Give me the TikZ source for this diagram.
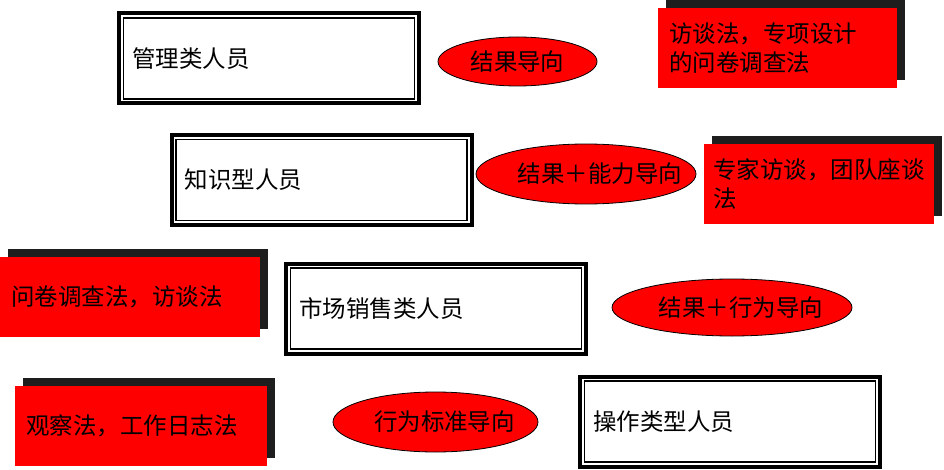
\documentclass[tikz,border=0pt]{standalone}
\usepackage{fontspec}
\setmainfont{Noto Sans CJK SC}
\usetikzlibrary{shapes.geometric,shadows}
\definecolor{shadowcol}{RGB}{30,30,30}
\begin{document}
\begin{tikzpicture}[x=0.75pt,y=-0.75pt,
  every node/.style={font=\fontsize{17.6pt}{22pt}\selectfont},
  personbox/.style={draw=black, line width=3pt, fill=white, rectangle,
    minimum width=225pt, minimum height=67.5pt, inner ysep=0pt, inner xsep=10pt,
    text width=205pt, align=left,
    path picture={\draw[line width=0.9pt]
      ([shift={(3.4pt,-3.4pt)}]path picture bounding box.north west) rectangle
      ([shift={(-3.4pt,3.4pt)}]path picture bounding box.south east);}},
  methodbox/.style={fill=red, draw=none, rectangle, minimum height=60pt,
    inner xsep=8.5pt, inner ysep=0pt, align=left,
    drop shadow={shadow xshift=6pt, shadow yshift=6pt, fill=shadowcol, opacity=1}},
  orient/.style={ellipse, fill=red, draw=black, line width=0.6pt, inner sep=0pt}
]
\useasboundingbox (0,0) rectangle (944,470);

% person boxes
\node[personbox] (b1) at (269,58.5) {管理类人员};
\node[personbox] (b2) at (321.5,180) {知识型人员};
\node[personbox] (b3) at (436,308.5) {市场销售类人员};
\node[personbox] (b4) at (730,421.5) {操作类型人员};

% method boxes
\node[methodbox, text width=162.25pt] (m1) at (777.5,48) {访谈法，专项设计\\的问卷调查法};
\node[methodbox, inner xsep=7pt, text width=158.5pt] (m2) at (819,184) {专家访谈，团队座谈\\法};
\node[methodbox, text width=178pt] (m3) at (130,297) {问卷调查法，访谈法};
\node[methodbox, text width=172pt] (m4) at (141,426) {观察法，工作日志法};

% orientation ellipses
\node[orient, minimum width=119.25pt, minimum height=36.75pt] (e1) at (517.5,61.5)
  {\makebox[0pt]{结果导向}};
\node[orient, minimum width=165pt, minimum height=45pt] (e2) at (586,174)
  {\makebox[0pt]{\hspace*{21pt}结果＋能力导向}};
\node[orient, minimum width=180pt, minimum height=42.75pt] (e3) at (732,307.5)
  {\makebox[0pt]{\hspace*{13.5pt}结果＋行为导向}};
\node[orient, minimum width=153.75pt, minimum height=45pt] (e4) at (435.5,422)
  {\makebox[0pt]{\hspace*{13.5pt}行为标准导向}};
\end{tikzpicture}
\end{document}
